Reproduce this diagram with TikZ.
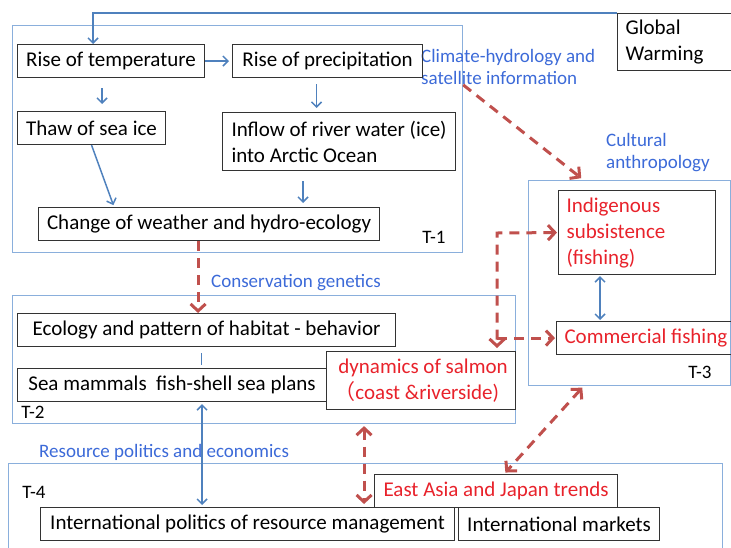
\documentclass[tikz,border=0pt]{standalone}
\usepackage{fontspec}
\setmainfont{Carlito}
\newfontfamily\cjkfont{Noto Sans CJK JP}
\usetikzlibrary{arrows.meta}
\definecolor{flowblue}{HTML}{4F81BD}
\definecolor{frameblue}{HTML}{8AAFDC}
\definecolor{topicblue}{HTML}{3C6AD8}
\definecolor{linkred}{HTML}{C0504D}
\definecolor{hotred}{HTML}{E8222B}
\newcommand{\boxtxt}{\fontsize{21}{26}\selectfont}
\newcommand{\tagtxt}{\fontsize{19}{22}\selectfont}
\tikzset{
  box/.style={draw=black!80, line width=1.1pt, anchor=north west, inner xsep=8pt, inner ysep=0pt, align=left, font=\boxtxt},
  frame/.style={draw=frameblue, line width=1.2pt, anchor=north west, inner sep=0pt},
  flow/.style={draw=flowblue, line width=1.5pt, >={Straight Barb[length=5pt,width=10pt]}},
  link/.style={draw=linkred, line width=3pt, dash pattern=on 10pt off 7pt, >={Straight Barb[length=7pt,width=15pt]}},
  topic/.style={text=topicblue, font=\tagtxt, align=left, anchor=west, inner sep=0pt},
  tag/.style={font=\tagtxt, inner sep=0pt}
}
\begin{document}
\begin{tikzpicture}[x=1pt,y=-1pt]
\useasboundingbox (0,0) rectangle (731,547);
% frames of the four teams
\node[frame, minimum width=450pt, minimum height=227pt] (t1) at (12,25) {};
\node[frame, minimum width=503pt, minimum height=128pt] (t2) at (12,295) {};
\node[frame, minimum width=202pt, minimum height=205pt] (t3) at (528,180) {};
\node[frame, minimum width=714pt, minimum height=100pt] (t4) at (8,463) {};
\node[tag] (t1tag) at (434,237) {T-1};
\node[tag] (t2tag) at (33,412) {T-2};
\node[tag] (t3tag) at (700,372) {T-3};
\node[tag] (t4tag) at (34,492) {T-4};
% field labels
\node[topic] (climate) at (421,67) {Climate-hydrology and\\satellite information};
\node[topic] (cultural) at (606,153) {Cultural\\anthropology};
\node[topic] (conserv) at (211,283) {Conservation genetics};
\node[topic] (resource) at (39,452) {Resource politics and economics};
% boxes
\node[box, text width=102pt, minimum height=57pt] (gw) at (617,13) {Global\\Warming};
\node[box, minimum width=187pt, minimum height=33pt] (temp) at (17,44) {Rise of temperature};
\node[box, minimum width=190pt, minimum height=33pt] (precip) at (232,44) {Rise of precipitation};
\node[box, minimum width=148pt, minimum height=33pt] (thaw) at (17,111) {Thaw of sea ice};
\node[box, inner xsep=5pt, minimum width=233pt, minimum height=58pt] (inflow) at (222,112) {Inflow of river water (ice)\\into Arctic Ocean};
\node[box, minimum width=341pt, minimum height=33pt] (change) at (38,207) {Change of weather and hydro-ecology};
\node[box, minimum width=378pt, minimum height=33pt] (eco) at (17,313) {Ecology and pattern of habitat - behavior};
\node[box, minimum width=309pt, minimum height=33pt] (sea) at (17,368) {Sea mammals\ \ fish-shell sea plans};
\node[box, inner xsep=4pt, minimum width=189pt, minimum height=58pt, text=hotred] (dyn) at (326,351) {\hspace*{4pt}dynamics of salmon\\{\cjkfont （}coast \&riverside)};
\node[box, text width=141pt, minimum height=84pt, text=hotred] (indig) at (558,190) {Indigenous\\subsistence\\(fishing)};
\node[box, minimum width=175pt, minimum height=33pt, text=hotred] (comm) at (556,321) {Commercial fishing};
\node[box, minimum width=243pt, minimum height=33pt, text=hotred] (east) at (374,474) {East Asia and Japan trends};
\node[box, minimum width=414pt, minimum height=33pt] (intpol) at (40,507) {International politics of resource management};
\node[box, minimum width=201pt, minimum height=33pt] (market) at (458,507) {International markets};
% causal chain
\draw[flow,->] (gw.north west) -| ([xshift=-18pt]temp.north);
\draw[flow,->,shorten >=3pt] (temp.east) -- (precip.west);
\draw[flow,->,shorten <=10pt,shorten >=7pt] ([xshift=-9pt]temp.south) -- ([xshift=-9pt]temp.south |- thaw.north);
\draw[flow,->,shorten <=6pt,shorten >=4pt] ([xshift=-11pt]precip.south) -- ([xshift=-11pt]precip.south |- inflow.north);
\draw[flow,->,shorten <=10pt,shorten >=4pt] ([xshift=-36pt]inflow.south) -- ([xshift=-36pt]inflow.south |- change.north);
\draw[flow,->,shorten >=2pt] (thaw.south) -- ([xshift=-95pt]change.north);
\draw[flow,shorten <=6pt,shorten >=3pt] ([xshift=-5pt]eco.south) -- ([xshift=-5pt]eco.south |- sea.north);
\draw[flow,<->,shorten <=2pt,shorten >=2pt] ([xshift=30pt]sea.south) -- ([xshift=30pt]sea.south |- intpol.north);
\draw[flow,<->,shorten <=1pt,shorten >=1pt] ([xshift=-37pt]indig.south) -- ([xshift=-37pt]indig.south |- comm.north);
% links between teams
\draw[link,->,shorten >=3pt] (climate.south -| t1.east) -- ([xshift=-46pt]t3.north);
\draw[link,->] ([xshift=-11pt]change.south) -- ([xshift=-11pt]change.south |- eco.north);
\coordinate (bend) at (497,233);
\draw[link,<->,shorten <=1pt,shorten >=3pt] (indig.west) -- (bend) -- (bend |- dyn.north);
\draw[link,->,shorten >=1pt] (bend |- comm.west) -- (comm.west);
\draw[link,<->,shorten <=16pt,shorten >=3pt] ([xshift=-57pt]dyn.south) -- ([xshift=-57pt]dyn.south |- intpol.north);
\draw[link,<->,shorten <=2pt,shorten >=2pt] ([xshift=-46pt]t3.south) -- ([xshift=8pt]east.north);
\end{tikzpicture}
\end{document}
